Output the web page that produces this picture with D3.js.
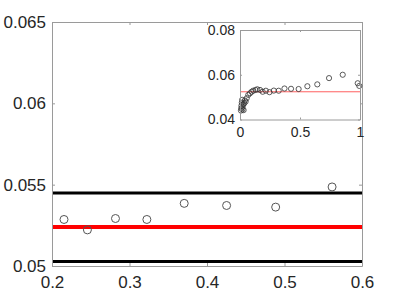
<!DOCTYPE html>
<html><head><meta charset="utf-8">
<script src="https://cdn.jsdelivr.net/npm/d3@7"></script>
<style>
html,body{margin:0;padding:0;background:#fff;}
svg{display:block;font-family:"Liberation Sans",Arial,Helvetica,sans-serif;}
</style></head>
<body>
<svg id="c" width="400" height="300"></svg>
<script>
// ---- data ----
const mainX = [0.2155, 0.2457, 0.2819, 0.3224, 0.3706, 0.4253, 0.4886, 0.5614];
const mainY = [0.05286, 0.05222, 0.05292, 0.05286, 0.05385, 0.05372, 0.05362, 0.05486];
const blackLevels = [0.05449, 0.05027];
const redLevel = 0.05239;
const mainXTicks = [0.2, 0.3, 0.4, 0.5, 0.6];
const mainXTickLabels = ["0.2", "0.3", "0.4", "0.5", "0.6"];
const mainYTicks = [0.05, 0.055, 0.06, 0.065];
const mainYTickLabels = ["0.05", "0.055", "0.06", "0.065"];

const insetX = [0.008, 0.010, 0.012, 0.015, 0.018, 0.020, 0.022, 0.026, 0.030, 0.035, 0.040,
  0.047, 0.056, 0.069, 0.083, 0.097, 0.111, 0.130, 0.144, 0.167, 0.189,
  0.2155, 0.2457, 0.2819, 0.3224, 0.3706, 0.4253, 0.4886, 0.5614,
  0.644, 0.742, 0.856, 0.981, 0.994];
const insetY = [0.0440, 0.0450, 0.0462, 0.0475, 0.0488, 0.0445, 0.0457, 0.0468, 0.0442, 0.0472, 0.0485,
  0.0480, 0.0495, 0.0510, 0.0517, 0.0524, 0.0529, 0.0532, 0.0535, 0.0532, 0.0524,
  0.05286, 0.05222, 0.05292, 0.05286, 0.05385, 0.05372, 0.05362, 0.05486,
  0.0557, 0.0585, 0.0600, 0.0562, 0.0550];
const insetXTicks = [0, 0.5, 1];
const insetXTickLabels = ["0", "0.5", "1"];
const insetYTicks = [0.04, 0.06, 0.08];
const insetYTickLabels = ["0.04", "0.06", "0.08"];

// ---- drawing ----
const svg = d3.select("#c");
const axisColor = "#9a9a9a", textColor = "#262626";

function drawAxes(g, x, y, xt, xl, yt, yl, fs, padX, padY, tick) {
  const [x0, x1] = x.range(), [y0, y1] = y.range();
  const fmtX = d => xl[xt.indexOf(d)], fmtY = d => yl[yt.indexOf(d)];
  const b = g.append("g").attr("transform", `translate(0,${y0})`)
    .call(d3.axisBottom(x).tickValues(xt).tickFormat(fmtX).tickSizeInner(-tick).tickSizeOuter(0).tickPadding(padX));
  const t = g.append("g").attr("transform", `translate(0,${y1})`)
    .call(d3.axisTop(x).tickValues(xt).tickFormat("").tickSizeInner(-tick).tickSizeOuter(0));
  const l = g.append("g").attr("transform", `translate(${x0},0)`)
    .call(d3.axisLeft(y).tickValues(yt).tickFormat(fmtY).tickSizeInner(-tick).tickSizeOuter(0).tickPadding(padY));
  const r = g.append("g").attr("transform", `translate(${x1},0)`)
    .call(d3.axisRight(y).tickValues(yt).tickFormat("").tickSizeInner(-tick).tickSizeOuter(0));
  [b, t, l, r].forEach(a => {
    a.select(".domain").attr("stroke", axisColor);
    a.selectAll(".tick line").attr("stroke", axisColor);
    a.selectAll("text").attr("fill", textColor).style("font-size", fs + "px")
      .style("font-family", '"Liberation Sans",Arial,Helvetica,sans-serif');
  });
}

// main axes
const x = d3.scaleLinear().domain([0.2, 0.6]).range([52, 362]);
const y = d3.scaleLinear().domain([0.05, 0.065]).range([266, 22]);
const main = svg.append("g");
main.append("g").selectAll("line.blk").data(blackLevels).join("line")
  .attr("x1", x(0.2)).attr("x2", x(0.6)).attr("y1", d => y(d)).attr("y2", d => y(d))
  .attr("stroke", "#000").attr("stroke-width", 3);
main.append("line").attr("x1", x(0.2)).attr("x2", x(0.6))
  .attr("y1", y(redLevel)).attr("y2", y(redLevel))
  .attr("stroke", "#ff0000").attr("stroke-width", 4);
main.append("g").selectAll("circle").data(mainX.map((v, i) => [v, mainY[i]])).join("circle")
  .attr("cx", d => x(d[0])).attr("cy", d => y(d[1])).attr("r", 4)
  .attr("fill", "none").attr("stroke", "#555").attr("stroke-width", 1);
drawAxes(main, x, y, mainXTicks, mainXTickLabels, mainYTicks, mainYTickLabels, 17, 10, 6, 3);

// inset axes
const ix = d3.scaleLinear().domain([0, 1]).range([240, 360]);
const iy = d3.scaleLinear().domain([0.04, 0.08]).range([119.5, 30]);
const inset = svg.append("g");
inset.append("rect").attr("x", 240).attr("y", 30).attr("width", 120).attr("height", 89.5).attr("fill", "#fff");
inset.append("line").attr("x1", ix(d3.min(insetX))).attr("x2", ix(1))
  .attr("y1", iy(redLevel)).attr("y2", iy(redLevel))
  .attr("stroke", "#ff6060").attr("stroke-width", 1);
inset.append("g").selectAll("circle").data(insetX.map((v, i) => [v, insetY[i]])).join("circle")
  .attr("cx", d => ix(d[0])).attr("cy", d => iy(d[1])).attr("r", 2.6)
  .attr("fill", "none").attr("stroke", "#333").attr("stroke-width", 0.8);
drawAxes(inset, ix, iy, insetXTicks, insetXTickLabels, insetYTicks, insetYTickLabels, 14, 8, 5, 2);
</script>
</body></html>
